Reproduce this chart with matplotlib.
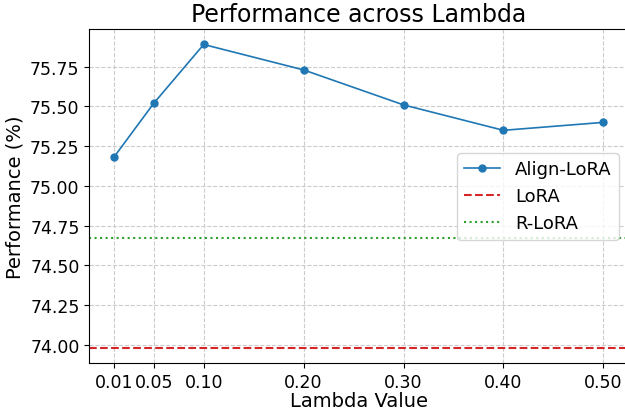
import matplotlib
matplotlib.use("Agg")
import matplotlib.pyplot as plt

lambdas = [0.01, 0.05, 0.10, 0.20, 0.30, 0.40, 0.50]
align_lora = [75.18, 75.52, 75.89, 75.73, 75.51, 75.35, 75.40]
lora_baseline = 73.98
rlora_baseline = 74.67
tick_labels = ["0.01", "0.05", "0.10", "0.20", "0.30", "0.40", "0.50"]

fig = plt.figure(figsize=(6.25, 4.10), dpi=100)
ax = fig.add_axes([0.1429, 0.1115, 0.8616, 0.8146])

ax.plot(lambdas, align_lora, marker='o', color='#1f77b4', linewidth=1.2,
        markersize=5, label='Align-LoRA')
ax.axhline(lora_baseline, color='#d62728', linestyle='--', linewidth=1.5, label='LoRA')
ax.axhline(rlora_baseline, color='#2ca02c', linestyle=':', linewidth=1.5, label='R-LoRA')

ax.set_xticks(lambdas)
ax.set_xticklabels(tick_labels)
ax.tick_params(labelsize=12.5)
ax.set_xlabel('Lambda Value', fontsize=14, labelpad=0)
ax.set_ylabel('Performance (%)', fontsize=14)
ax.set_title('Performance across Lambda', fontsize=17)
ax.grid(True, linestyle='--', color='#cccccc', linewidth=0.8)
ax.legend(loc='center right', fontsize=13)

fig.savefig('out.png', dpi=100)
